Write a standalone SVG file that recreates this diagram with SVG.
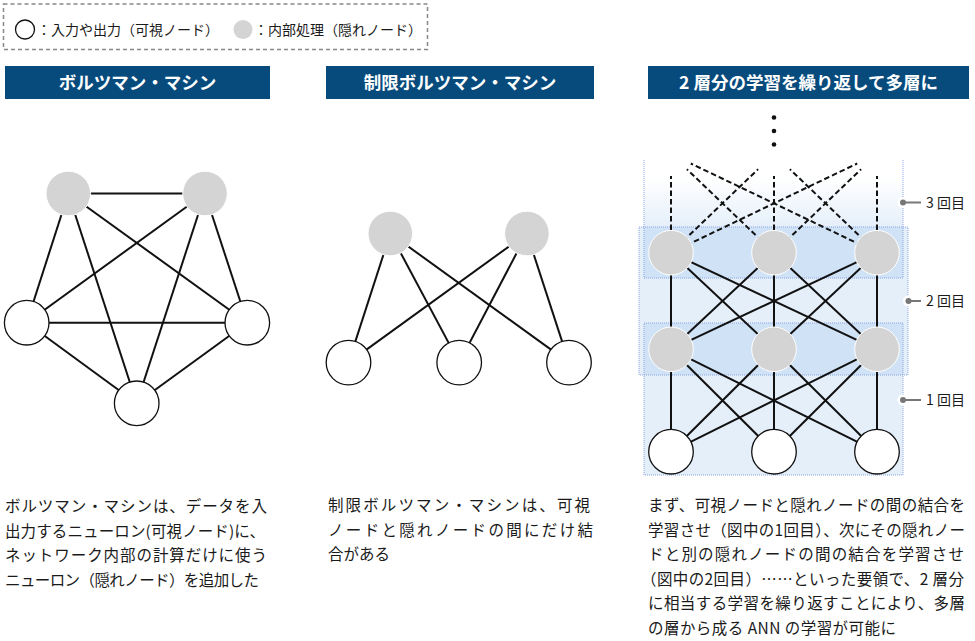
<svg xmlns="http://www.w3.org/2000/svg" width="975" height="641" viewBox="0 0 975 641">
<style>
text{font-family:"Noto Sans CJK JP","Noto Sans",sans-serif;fill:#1a1a1a}
.hd{fill:#074b7d}
.ht{fill:#fff;font-size:17.5px;font-weight:700;text-anchor:middle}
.body{font-size:15.5px}
.leg{font-size:14px}
.e{stroke:#111;stroke-width:2;fill:none}
.d{stroke:#111;stroke-width:2;fill:none;stroke-dasharray:5.5 3}
.hid{fill:#d4d4d4;stroke:#fff;stroke-width:1}
.vis{fill:#fff;stroke:#111;stroke-width:1.3}
.band{fill:rgb(118,171,229);fill-opacity:0.19;stroke:#8aa3e4;stroke-width:1;stroke-dasharray:1 1}
.dot{stroke:#8aa3e4;stroke-width:1;stroke-dasharray:1 1;fill:none}
.lbl{font-size:14px}
.mk{stroke:#777;stroke-width:2}
</style>
<defs>
<linearGradient id="g3" x1="0" y1="0" x2="0" y2="1">
<stop offset="0" stop-color="rgb(118,171,229)" stop-opacity="0"/>
<stop offset="0.15" stop-color="rgb(118,171,229)" stop-opacity="0"/>
<stop offset="0.57" stop-color="rgb(118,171,229)" stop-opacity="0.19"/>
<stop offset="1" stop-color="rgb(118,171,229)" stop-opacity="0.19"/>
</linearGradient>
</defs>

<g id="legend">
<rect x="3.5" y="4" width="424" height="45.5" fill="none" stroke="#888" stroke-width="1.5" stroke-dasharray="4 3"/>
<circle cx="25" cy="29.5" r="9.5" class="vis"/>
<text x="37" y="35" class="leg">：入力や出力（可視ノード）</text>
<circle cx="243" cy="29.5" r="9.5" fill="#d4d4d4"/>
<text x="254" y="35" class="leg">：内部処理（隠れノード）</text>
</g>

<g id="headers">
<rect x="5" y="66" width="265" height="33" class="hd"/>
<text x="137.5" y="88.5" class="ht">ボルツマン・マシン</text>
<rect x="326" y="66" width="268" height="33" class="hd"/>
<text x="460" y="88.5" class="ht">制限ボルツマン・マシン</text>
<rect x="648" y="66" width="321" height="33" class="hd"/>
<text x="808.5" y="88.5" class="ht">2 層分の学習を繰り返して多層に</text>
</g>

<g id="layer-bg">
<rect x="644" y="160" width="259" height="118" fill="url(#g3)"/>
<line x1="644" y1="160" x2="644" y2="278" class="dot"/>
<line x1="903" y1="160" x2="903" y2="278" class="dot"/>
<line x1="644" y1="278" x2="903" y2="278" class="dot"/>
<rect x="639" y="227" width="269" height="148" class="band"/>
<rect x="644" y="323" width="259" height="152" class="band"/>
</g>

<g id="connectors">
<line x1="68.3" y1="193.5" x2="205" y2="193.5" class="e"/>
<line x1="68.3" y1="193.5" x2="26.7" y2="322.7" class="e"/>
<line x1="68.3" y1="193.5" x2="247.3" y2="322.7" class="e"/>
<line x1="68.3" y1="193.5" x2="136.7" y2="403.3" class="e"/>
<line x1="205" y1="193.5" x2="26.7" y2="322.7" class="e"/>
<line x1="205" y1="193.5" x2="247.3" y2="322.7" class="e"/>
<line x1="205" y1="193.5" x2="136.7" y2="403.3" class="e"/>
<line x1="26.7" y1="322.7" x2="247.3" y2="322.7" class="e"/>
<line x1="26.7" y1="322.7" x2="136.7" y2="403.3" class="e"/>
<line x1="247.3" y1="322.7" x2="136.7" y2="403.3" class="e"/>
<line x1="390.3" y1="233.5" x2="348.5" y2="362.6" class="e"/>
<line x1="390.3" y1="233.5" x2="459.2" y2="362.6" class="e"/>
<line x1="390.3" y1="233.5" x2="569" y2="362.6" class="e"/>
<line x1="526.9" y1="233.5" x2="348.5" y2="362.6" class="e"/>
<line x1="526.9" y1="233.5" x2="459.2" y2="362.6" class="e"/>
<line x1="526.9" y1="233.5" x2="569" y2="362.6" class="e"/>
<line x1="671" y1="230" x2="671" y2="176" class="d"/>
<line x1="774" y1="230" x2="774" y2="176" class="d"/>
<line x1="877" y1="230" x2="877" y2="176" class="d"/>
<line x1="671" y1="252.7" x2="758.1" y2="169.2" class="d"/>
<line x1="671" y1="252.7" x2="857.2" y2="163.5" class="d"/>
<line x1="774" y1="252.7" x2="686.9" y2="169.2" class="d"/>
<line x1="774" y1="252.7" x2="861.1" y2="169.2" class="d"/>
<line x1="877" y1="252.7" x2="789.9" y2="169.2" class="d"/>
<line x1="877" y1="252.7" x2="690.8" y2="163.5" class="d"/>
<line x1="671" y1="252.7" x2="671" y2="349.3" class="e"/>
<line x1="671" y1="252.7" x2="774" y2="349.3" class="e"/>
<line x1="671" y1="252.7" x2="877" y2="349.3" class="e"/>
<line x1="774" y1="252.7" x2="671" y2="349.3" class="e"/>
<line x1="774" y1="252.7" x2="774" y2="349.3" class="e"/>
<line x1="774" y1="252.7" x2="877" y2="349.3" class="e"/>
<line x1="877" y1="252.7" x2="671" y2="349.3" class="e"/>
<line x1="877" y1="252.7" x2="774" y2="349.3" class="e"/>
<line x1="877" y1="252.7" x2="877" y2="349.3" class="e"/>
<line x1="671" y1="349.3" x2="671" y2="451.7" class="e"/>
<line x1="671" y1="349.3" x2="774" y2="451.7" class="e"/>
<line x1="671" y1="349.3" x2="877" y2="451.7" class="e"/>
<line x1="774" y1="349.3" x2="671" y2="451.7" class="e"/>
<line x1="774" y1="349.3" x2="774" y2="451.7" class="e"/>
<line x1="774" y1="349.3" x2="877" y2="451.7" class="e"/>
<line x1="877" y1="349.3" x2="671" y2="451.7" class="e"/>
<line x1="877" y1="349.3" x2="774" y2="451.7" class="e"/>
<line x1="877" y1="349.3" x2="877" y2="451.7" class="e"/>
</g>

<g id="bm-h1"><circle cx="68.3" cy="193.5" r="22.3" class="hid"/></g>
<g id="bm-h2"><circle cx="205" cy="193.5" r="22.3" class="hid"/></g>
<g id="bm-v1"><circle cx="26.7" cy="322.7" r="22.3" class="vis"/></g>
<g id="bm-v2"><circle cx="247.3" cy="322.7" r="22.3" class="vis"/></g>
<g id="bm-v3"><circle cx="136.7" cy="403.3" r="22.3" class="vis"/></g>

<g id="rbm-h1"><circle cx="390.3" cy="233.5" r="22.3" class="hid"/></g>
<g id="rbm-h2"><circle cx="526.9" cy="233.5" r="22.3" class="hid"/></g>
<g id="rbm-v1"><circle cx="348.5" cy="362.6" r="22.3" class="vis"/></g>
<g id="rbm-v2"><circle cx="459.2" cy="362.6" r="22.3" class="vis"/></g>
<g id="rbm-v3"><circle cx="569" cy="362.6" r="22.3" class="vis"/></g>

<g id="dbn-h2a"><circle cx="671" cy="252.7" r="22.3" class="hid"/></g>
<g id="dbn-h2b"><circle cx="774" cy="252.7" r="22.3" class="hid"/></g>
<g id="dbn-h2c"><circle cx="877" cy="252.7" r="22.3" class="hid"/></g>
<g id="dbn-h1a"><circle cx="671" cy="349.3" r="22.3" class="hid"/></g>
<g id="dbn-h1b"><circle cx="774" cy="349.3" r="22.3" class="hid"/></g>
<g id="dbn-h1c"><circle cx="877" cy="349.3" r="22.3" class="hid"/></g>
<g id="dbn-v1"><circle cx="671" cy="451.7" r="22.3" class="vis"/></g>
<g id="dbn-v2"><circle cx="774" cy="451.7" r="22.3" class="vis"/></g>
<g id="dbn-v3"><circle cx="877" cy="451.7" r="22.3" class="vis"/></g>

<g id="ellipsis" fill="#111">
<circle cx="774" cy="117.5" r="2.3"/>
<circle cx="774" cy="131" r="2.3"/>
<circle cx="774" cy="144.5" r="2.3"/>
</g>

<g id="label-3">
<circle cx="903" cy="202.5" r="5.5" fill="#fff"/>
<line x1="903" y1="202.5" x2="921" y2="202.5" class="mk"/>
<circle cx="903" cy="202.5" r="3" fill="#777"/>
<text x="926" y="207.5" class="lbl">3 回目</text>
</g>
<g id="label-2">
<circle cx="908.5" cy="301" r="5.5" fill="#fff"/>
<line x1="908.5" y1="301" x2="921" y2="301" class="mk"/>
<circle cx="908.5" cy="301" r="3" fill="#777"/>
<text x="926" y="306" class="lbl">2 回目</text>
</g>
<g id="label-1">
<circle cx="903" cy="400" r="5.5" fill="#fff"/>
<line x1="903" y1="400" x2="921" y2="400" class="mk"/>
<circle cx="903" cy="400" r="3" fill="#777"/>
<text x="926" y="405" class="lbl">1 回目</text>
</g>

<g id="text-left">
<text x="5" y="512" class="body" textLength="262" lengthAdjust="spacing">ボルツマン・マシンは、データを入</text>
<text x="5" y="536.5" class="body" textLength="260" lengthAdjust="spacing">出力するニューロン(可視ノード)に、</text>
<text x="5" y="561" class="body" textLength="262" lengthAdjust="spacing">ネットワーク内部の計算だけに使う</text>
<text x="5" y="585.5" class="body" textLength="254" lengthAdjust="spacing">ニューロン（隠れノード）を追加した</text>
</g>
<g id="text-middle">
<text x="328" y="511" class="body" textLength="262" lengthAdjust="spacing">制限ボルツマン・マシンは、可視</text>
<text x="328" y="535.5" class="body" textLength="265" lengthAdjust="spacing">ノードと隠れノードの間にだけ結</text>
<text x="328" y="560" class="body">合がある</text>
</g>
<g id="text-right">
<text x="648" y="511" class="body" textLength="317" lengthAdjust="spacing">まず、可視ノードと隠れノードの間の結合を</text>
<text x="648" y="535.5" class="body" textLength="317" lengthAdjust="spacing">学習させ（図中の1回目）、次にその隠れノー</text>
<text x="648" y="560" class="body" textLength="316" lengthAdjust="spacing">ドと別の隠れノードの間の結合を学習させ</text>
<text x="641" y="584.5" class="body" textLength="323" lengthAdjust="spacing">（図中の2回目）……といった要領で、2 層分</text>
<text x="648" y="609" class="body" textLength="317" lengthAdjust="spacing">に相当する学習を繰り返すことにより、多層</text>
<text x="648" y="633.5" class="body" textLength="248" lengthAdjust="spacing">の層から成る ANN の学習が可能に</text>
</g>
</svg>
